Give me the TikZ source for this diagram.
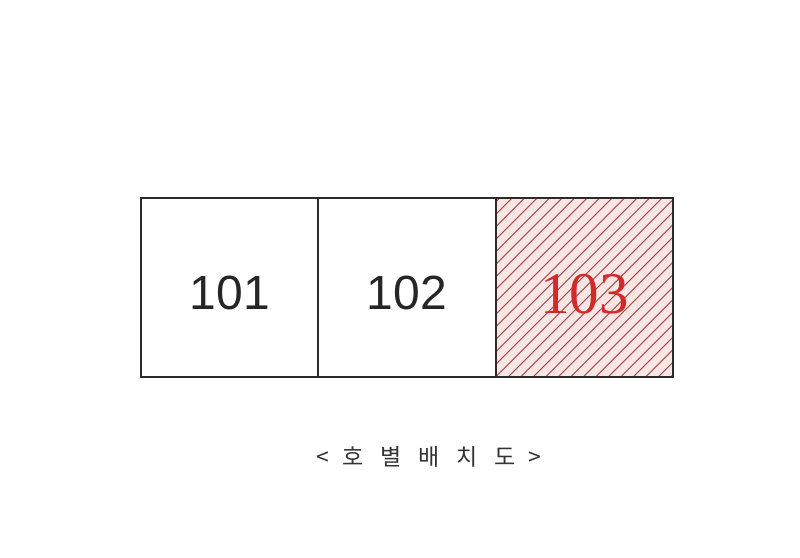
\documentclass[tikz,border=0pt]{standalone}
\usepackage{fontspec}
\setmainfont{Liberation Sans}
\newfontfamily\numserif{Liberation Serif}
\newfontfamily\cjk{Noto Sans CJK KR}
\usepackage{xcolor}
\definecolor{hatchline}{HTML}{A65250}
\definecolor{soldtext}{HTML}{D22A2A}
\definecolor{hatchbg}{HTML}{FBE6E6}
\definecolor{frame}{HTML}{2B2B2B}
\usetikzlibrary{positioning}

\tikzset{
  unitbox/.style={rectangle, draw=frame, line width=1.8pt, minimum width=177.3pt,
    minimum height=179pt, inner sep=0pt, outer sep=0pt, text=black!85,
    text height=45pt, font=\fontsize{48}{48}\selectfont},
  soldbox/.style={unitbox, fill=hatchbg, text=soldtext, text height=52pt,
    font=\numserif\fontsize{59}{59}\selectfont}
}

\begin{document}
\begin{tikzpicture}[x=1pt, y=-1pt]
  \useasboundingbox (0,0) rectangle (800,557);

  \node[unitbox] (h101) at (229.7,287.5) {101};
  \node[unitbox, right=0pt of h101] (h102) {102};
  \node[soldbox, right=0pt of h102] (h103) {};

  % hatching of 103
  \begin{scope}
    \clip (h103.south west) rectangle (h103.north east);
    \foreach \k in {-200,-187.5,...,200}
      \draw[hatchline, line width=1pt] ([xshift=\k pt]h103.south west) -- ++(200,-200);
  \end{scope}
  \node[soldbox, fill=none] at (h103) {103};
  \draw[frame, line width=1.8pt] (h101.north east) -- (h101.south east)
    (h102.north east) -- (h102.south east);

  \node[text=black!80] (caption) at (429,457) {\cjk\fontsize{23}{23}\selectfont
    <\hspace{13pt}호\hspace{17pt}별\hspace{17pt}배\hspace{17pt}치\hspace{17pt}도\hspace{13pt}>};
\end{tikzpicture}
\end{document}
